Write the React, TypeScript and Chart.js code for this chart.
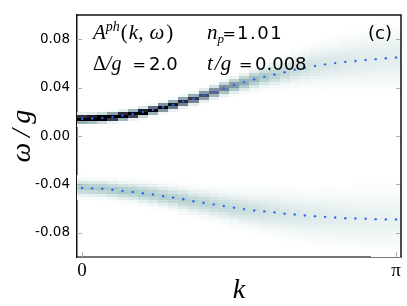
import { useEffect, useRef } from "react";
import { Chart, registerables } from "chart.js";

Chart.register(...registerables);

// ---- data ----
const kCount = 32;
const kValues = Array.from({ length: kCount }, (_, i) => (i * Math.PI) / (kCount - 1));

const upperBand = [0.0143, 0.0145, 0.015, 0.0158, 0.0169, 0.0182, 0.0198, 0.0216, 0.0238, 0.0259, 0.0285, 0.0309, 0.0338, 0.0367, 0.0396, 0.0422, 0.0446, 0.047, 0.0491, 0.0509, 0.0528, 0.0549, 0.0565, 0.058, 0.0593, 0.0603, 0.0613, 0.0621, 0.0629, 0.0636, 0.0643, 0.065];
const lowerBand = [-0.043, -0.0433, -0.0436, -0.0444, -0.0454, -0.0462, -0.0473, -0.0483, -0.0497, -0.0509, -0.0523, -0.0539, -0.0552, -0.0565, -0.0578, -0.0592, -0.0604, -0.0615, -0.0623, -0.0631, -0.0642, -0.0649, -0.0657, -0.0663, -0.0668, -0.0673, -0.0679, -0.0681, -0.0684, -0.0687, -0.0689, -0.0689];

// spectral weight (peak intensity) and broadening per k
const upperWeight = [1.4, 1.4, 1.4, 1.4, 1.35, 1.3, 1.2, 1.1, 1.0, 0.92, 0.84, 0.76, 0.67, 0.58, 0.5, 0.43, 0.36, 0.3, 0.25, 0.21, 0.18, 0.155, 0.135, 0.12, 0.11, 0.1, 0.095, 0.09, 0.085, 0.08, 0.08, 0.08];
const upperWidth = [0.0018, 0.0018, 0.0018, 0.0018, 0.0018, 0.0018, 0.0018, 0.0018, 0.0019, 0.002, 0.0021, 0.0022, 0.0024, 0.0026, 0.0029, 0.0032, 0.0036, 0.004, 0.0045, 0.005, 0.0057, 0.0064, 0.0072, 0.008, 0.0088, 0.0096, 0.0103, 0.011, 0.0116, 0.0121, 0.0125, 0.0128];
const lowerWeight = [0.24, 0.24, 0.24, 0.24, 0.24, 0.23, 0.23, 0.22, 0.22, 0.21, 0.21, 0.2, 0.19, 0.18, 0.17, 0.16, 0.15, 0.14, 0.13, 0.12, 0.11, 0.1, 0.095, 0.09, 0.085, 0.08, 0.075, 0.07, 0.068, 0.065, 0.062, 0.06];
const lowerWidth = [0.0035, 0.0035, 0.0036, 0.0037, 0.0038, 0.004, 0.0042, 0.0044, 0.0046, 0.0048, 0.005, 0.0053, 0.0056, 0.006, 0.0064, 0.0068, 0.0072, 0.0077, 0.0082, 0.0087, 0.0092, 0.0097, 0.0102, 0.0107, 0.0112, 0.0116, 0.012, 0.0124, 0.0127, 0.013, 0.0132, 0.0134];

const yTickValues = [-0.08, -0.04, 0, 0.04, 0.08];
const xTickValues = [0, Math.PI];
const xTickLabels = ["0", "π"];
const omegaMin = -0.1;
const omegaMax = 0.1;
const omegaStep = 0.0025;

const SERIF = "'Liberation Serif', 'DejaVu Serif', serif";
const SANS = "'DejaVu Sans', sans-serif";

function boneR(v: number): string {
  const t = 1 - Math.max(0, Math.min(1, v));
  const r = t < 0.746 ? (0.652 * t) / 0.746 : 0.652 + ((t - 0.746) * 0.348) / 0.254;
  const g =
    t < 0.365
      ? (0.319 * t) / 0.365
      : t < 0.746
      ? 0.319 + ((t - 0.365) * 0.458) / 0.381
      : 0.777 + ((t - 0.746) * 0.223) / 0.254;
  const b = t < 0.365 ? (0.444 * t) / 0.365 : 0.444 + ((t - 0.365) * 0.556) / 0.635;
  return `rgb(${Math.round(r * 255)},${Math.round(g * 255)},${Math.round(b * 255)})`;
}

const dk = Math.PI / (kCount - 1);

const heatmapPlugin = {
  id: "heatmap",
  beforeDatasetsDraw(chart: any) {
    const { ctx, chartArea, scales } = chart;
    const xs = scales.x;
    const ys = scales.y;
    ctx.save();
    ctx.beginPath();
    ctx.rect(chartArea.left, chartArea.top, chartArea.right - chartArea.left, chartArea.bottom - chartArea.top);
    ctx.clip();
    const nW = Math.round((omegaMax - omegaMin) / omegaStep);
    // shared cell edges so neighbouring cells meet exactly
    const xEdges: number[] = [];
    for (let i = 0; i <= kCount; i++) {
      const kb = i === 0 ? kValues[0] - dk / 2 : i === kCount ? kValues[kCount - 1] + dk / 2 : (kValues[i - 1] + kValues[i]) / 2;
      xEdges.push(Math.round(xs.getPixelForValue(kb)));
    }
    const yEdges: number[] = [];
    for (let j = 0; j <= nW; j++) {
      yEdges.push(Math.round(ys.getPixelForValue(omegaMin + j * omegaStep)));
    }
    for (let i = 0; i < kCount; i++) {
      const x0 = xEdges[i];
      const x1 = xEdges[i + 1];
      for (let j = 0; j < nW; j++) {
        const w = omegaMin + (j + 0.5) * omegaStep;
        const du = (w - upperBand[i]) / upperWidth[i];
        const dl = (w - lowerBand[i]) / lowerWidth[i];
        const v = upperWeight[i] * Math.exp(-0.5 * du * du) + lowerWeight[i] * Math.exp(-0.5 * dl * dl);
        if (v < 0.004) continue;
        const y0 = yEdges[j + 1];
        const y1 = yEdges[j];
        ctx.fillStyle = boneR(v);
        ctx.fillRect(x0, y0, x1 - x0, y1 - y0);
      }
    }
    ctx.restore();
  },
};

function drawParts(ctx: any, x: number, y: number, parts: any[]) {
  for (const p of parts) {
    ctx.font = p.font;
    ctx.letterSpacing = p.ls || "0px";
    const px = p.x !== undefined ? p.x : x;
    ctx.fillText(p.t, px, y + (p.dy || 0));
    x = px + ctx.measureText(p.t).width + (p.gap || 0);
  }
  ctx.letterSpacing = "0px";
  return x;
}

const framePlugin = {
  id: "frame",
  afterDraw(chart: any) {
    const { ctx, chartArea, scales } = chart;
    const { left, right, top, bottom } = chartArea;
    ctx.save();
    // inward tick marks
    ctx.strokeStyle = "#b0b0b0";
    ctx.lineWidth = 1;
    for (const v of yTickValues) {
      const py = Math.round(scales.y.getPixelForValue(v)) + 0.5;
      ctx.beginPath();
      ctx.moveTo(left, py);
      ctx.lineTo(left + 5, py);
      ctx.moveTo(right - 5, py);
      ctx.lineTo(right, py);
      ctx.stroke();
    }
    for (const v of xTickValues) {
      const px = Math.round(scales.x.getPixelForValue(v)) + 0.5;
      ctx.beginPath();
      ctx.moveTo(px, bottom);
      ctx.lineTo(px, bottom - 5);
      ctx.stroke();
    }
    // top and right frame
    ctx.strokeStyle = "#111";
    ctx.lineWidth = 1.5;
    ctx.beginPath();
    ctx.moveTo(left, top);
    ctx.lineTo(right, top);
    ctx.lineTo(right, bottom);
    ctx.stroke();

    // annotations
    ctx.fillStyle = "#000";
    ctx.textBaseline = "alphabetic";
    ctx.textAlign = "left";
    const it = (s: number) => `italic ${s}px ${SERIF}`;
    const up = (s: number) => `${s}px ${SERIF}`;
    const sans = (s: number) => `${s}px ${SANS}`;
    const b1 = top + 24;
    const b2 = top + 55;
    drawParts(ctx, left + 16, b1, [
      { t: "A", font: it(21) },
      { t: "ph", font: it(14), dy: -8, gap: 1 },
      { t: "(", font: up(21), gap: 1 },
      { t: "k", font: it(21) },
      { t: ",", font: up(21), gap: 6 },
      { t: "ω", font: it(21), gap: 2 },
      { t: ")", font: up(21) },
    ]);
    drawParts(ctx, left + 130, b1, [
      { t: "n", font: it(21) },
      { t: "p", font: it(13), dy: 4 },
      { t: "=", font: sans(16), x: left + 145.5 },
      { t: "1.01", font: sans(18), x: left + 160, ls: "1.5px" },
    ]);
    drawParts(ctx, left + 291, b1, [{ t: "(c)", font: sans(18) }]);
    drawParts(ctx, left + 16, b2, [
      { t: "Δ", font: up(20) },
      { t: "/", font: it(20) },
      { t: "g", font: it(20) },
      { t: "=", font: sans(16), x: left + 55.5 },
      { t: "2.0", font: sans(18), x: left + 72 },
    ]);
    drawParts(ctx, left + 130, b2, [
      { t: "t", font: it(21), gap: 2 },
      { t: "/", font: it(21) },
      { t: "g", font: it(21) },
      { t: "=", font: sans(16), x: left + 162 },
      { t: "0.008", font: sans(18), x: left + 178 },
    ]);
    ctx.restore();
  },
};

export default function App() {
  const canvasRef = useRef<HTMLCanvasElement | null>(null);

  useEffect(() => {
    if (!canvasRef.current) return;
    const upperPoints = kValues.map((k, i) => ({ x: k, y: upperBand[i] }));
    const lowerPoints = kValues.map((k, i) => ({ x: k, y: lowerBand[i] }));
    const chart = new Chart(canvasRef.current, {
      type: "scatter",
      data: {
        datasets: [
          { label: "upper", data: upperPoints, pointRadius: 1.2, pointBorderWidth: 0, pointBackgroundColor: "#2a6af0", showLine: false },
          { label: "lower", data: lowerPoints, pointRadius: 1.2, pointBorderWidth: 0, pointBackgroundColor: "#2a6af0", showLine: false },
        ],
      },
      options: {
        animation: false,
        responsive: false,
        maintainAspectRatio: false,
        layout: { padding: { top: 5, right: 6, left: 0, bottom: 0 } },
        plugins: { legend: { display: false }, tooltip: { enabled: false } },
        scales: {
          x: {
            type: "linear",
            min: -dk / 2,
            max: Math.PI + dk / 2,
            afterBuildTicks: (s: any) => {
              s.ticks = xTickValues.map((v) => ({ value: v }));
            },
            afterFit: (s: any) => {
              s.height = 49;
            },
            ticks: {
              callback: (v: any) => {
                const idx = xTickValues.findIndex((t) => Math.abs(t - Number(v)) < 1e-6);
                return idx >= 0 ? xTickLabels[idx] : "";
              },
              font: { family: SERIF, size: 19 },
              color: "#000",
              padding: 3,
              maxRotation: 0,
              autoSkip: false,
            },
            grid: { display: false, drawTicks: false },
            border: { display: true, color: "#777", width: 2 },
            title: {
              display: true,
              text: "k",
              font: { family: SERIF, style: "italic", size: 28, lineHeight: 1 },
              color: "#000",
              padding: { top: 0, bottom: 1 },
            },
          },
          y: {
            type: "linear",
            min: omegaMin,
            max: omegaMax,
            afterBuildTicks: (s: any) => {
              s.ticks = yTickValues.map((v) => ({ value: v }));
            },
            afterFit: (s: any) => {
              s.width = 77;
            },
            ticks: {
              callback: (v: any) => Number(v).toFixed(2),
              font: { family: SANS, size: 13.5 },
              color: "#000",
              padding: 7,
            },
            grid: { display: false, drawTicks: false },
            border: { display: true, color: "#111", width: 1.5 },
            title: {
              display: true,
              text: "ω\u2009/\u2009g",
              font: { family: SERIF, style: "italic", size: 28 },
              color: "#000",
              padding: { top: 6, bottom: 0 },
            },
          },
        },
      },
      plugins: [heatmapPlugin, framePlugin],
    });
    return () => chart.destroy();
  }, []);

  return (
    <div style={{ position: "fixed", left: 0, top: 0, width: 407, height: 306, background: "#fff" }}>
      <canvas ref={canvasRef} width={407} height={306} style={{ width: 407, height: 306, display: "block" }} />
    </div>
  );
}
